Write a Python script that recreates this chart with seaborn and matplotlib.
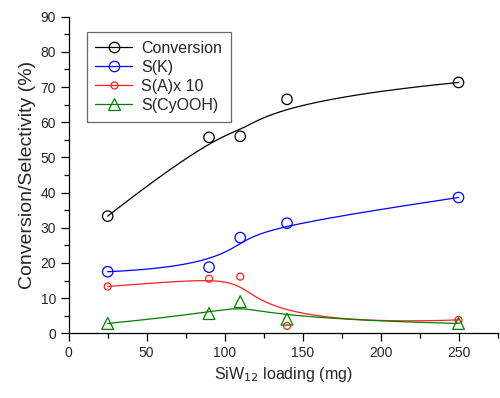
import numpy as np
import pandas as pd
import matplotlib
matplotlib.use("Agg")
import matplotlib.pyplot as plt
from matplotlib.lines import Line2D
from matplotlib.ticker import MultipleLocator
import seaborn as sns

loading = [25, 90, 110, 140, 250]
conversion = [33.3, 55.7, 56.0, 66.5, 71.3]
s_k = [17.5, 18.8, 27.2, 31.3, 38.6]
s_a10 = [13.3, 15.5, 16.1, 2.1, 3.8]
s_cyooh = [2.8, 5.6, 9.0, 4.0, 2.8]

series_names = ["Conversion", "S(K)", "S(A)x 10", "S(CyOOH)"]
series_values = [conversion, s_k, s_a10, s_cyooh]
colors = ["black", "#0000FF", "#FF2020", "#008000"]
markers = ["o", "o", "o", "^"]
msizes = [7.5, 7.5, 5, 8.5]


def bspline(xs, ys, n=200, k=3):
    """Clamped cubic B-spline using data points as control points (Origin style)."""
    P = np.column_stack([xs, ys]).astype(float)
    m = len(P)
    inner = np.linspace(0, 1, m - k + 1)
    knots = np.concatenate([np.zeros(k), inner, np.ones(k)])
    t = np.linspace(0, 1, n)
    t[-1] = 1 - 1e-12

    def basis(i, p, tt):
        if p == 0:
            return np.where((knots[i] <= tt) & (tt < knots[i + 1]), 1.0, 0.0)
        a = 0.0
        if knots[i + p] != knots[i]:
            a = (tt - knots[i]) / (knots[i + p] - knots[i]) * basis(i, p - 1, tt)
        b = 0.0
        if knots[i + p + 1] != knots[i + 1]:
            b = (knots[i + p + 1] - tt) / (knots[i + p + 1] - knots[i + 1]) * basis(i + 1, p - 1, tt)
        return a + b

    B = np.array([basis(i, k, t) for i in range(m)])
    C = B.T @ P
    return C[:, 0], C[:, 1]


sns.set_style("ticks")
plt.rcParams["font.family"] = ["Liberation Sans", "DejaVu Sans"]

fig = plt.figure(figsize=(5.0, 3.98), dpi=100)
ax = fig.add_axes([0.1374, 0.1626, 0.8576, 0.7955])

handles = []
for name, vals, c, mk, ms in zip(series_names, series_values, colors, markers, msizes):
    cx, cy = bspline(loading, vals)
    curve = pd.DataFrame({"x": cx, "y": cy})
    sns.lineplot(data=curve, x="x", y="y", ax=ax, color=c, lw=0.9,
                 estimator=None, sort=False, legend=False)
    pts = pd.DataFrame({"x": loading, "y": vals})
    sns.scatterplot(data=pts, x="x", y="y", ax=ax, marker=mk, s=ms ** 2,
                    facecolor="none", edgecolor=c, linewidth=0.9, legend=False, zorder=3)
    handles.append(Line2D([], [], color=c, lw=0.9, marker=mk, markersize=ms,
                          markerfacecolor="none", markeredgecolor=c, markeredgewidth=0.9,
                          label=name))

ax.set_xlim(0, 275)
ax.set_ylim(0, 90)
ax.xaxis.set_major_locator(MultipleLocator(50))
ax.xaxis.set_minor_locator(MultipleLocator(25))
ax.yaxis.set_major_locator(MultipleLocator(10))
ax.yaxis.set_minor_locator(MultipleLocator(5))
ax.tick_params(which="major", direction="out", length=5.5, width=0.9, labelsize=10, color="black")
ax.tick_params(which="minor", direction="out", length=3.5, width=0.9, color="black")
for s in ["top", "right"]:
    ax.spines[s].set_visible(False)
for s in ["left", "bottom"]:
    ax.spines[s].set_linewidth(0.9)
    ax.spines[s].set_color("black")

ax.set_xlabel("SiW$_{12}$ loading (mg)", fontsize=11.5, labelpad=4)
ax.set_ylabel("Conversion/Selectivity (%)", fontsize=14, labelpad=3)

leg = ax.legend(handles=handles, loc="upper left", bbox_to_anchor=(0.042, 0.951),
                borderaxespad=0, fontsize=11.5, frameon=True, fancybox=False,
                handlelength=2.3, handletextpad=0.55, borderpad=0.55, labelspacing=0.25)
leg.get_frame().set_edgecolor("#444444")
leg.get_frame().set_linewidth(0.9)

fig.savefig("out.png", dpi=100)
